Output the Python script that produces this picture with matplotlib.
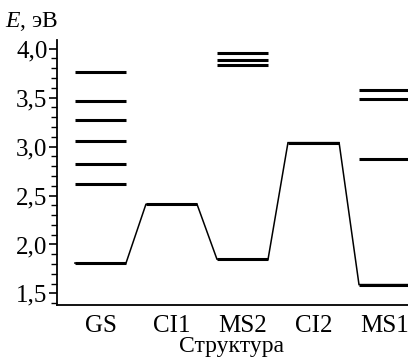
import matplotlib
matplotlib.use('Agg')
import matplotlib.pyplot as plt
from matplotlib.ticker import FixedLocator, MultipleLocator, FixedFormatter

plt.rcParams['font.family'] = ['Liberation Serif', 'DejaVu Serif']
plt.rcParams['mathtext.fontset'] = 'custom'
plt.rcParams['mathtext.rm'] = 'Liberation Serif'
plt.rcParams['mathtext.it'] = 'Liberation Serif:italic'

##########################data
structures = ['GS', 'CI1', 'MS2', 'CI2', 'MS1']
ground = [1.81, 2.41, 1.85, 3.04, 1.59]          # lowest level of each structure (path)
upper = {                                         # excited levels
    'GS': [3.76, 3.47, 3.27, 3.06, 2.82, 2.62],
    'MS2': [3.96, 3.88, 3.83],
    'MS1': [3.58, 3.49, 2.87],
}
yticks = [1.5, 2.0, 2.5, 3.0, 3.5, 4.0]
ytick_labels = ['1,5', '2,0', '2,5', '3,0', '3,5', '4,0']

##########################plotting
fig = plt.figure(figsize=(4.08, 3.59), dpi=100)
ax = fig.add_axes([0.140, 0.150, 0.860, 0.739])

hw = 0.36
xs = list(range(1, len(structures) + 1))

# connecting path
px, py = [], []
for x, e in zip(xs, ground):
    px += [x - hw, x + hw]
    py += [e, e]
ax.plot(px, py, color='black', lw=1.1, solid_joinstyle='miter')

# level bars
for x, name, e in zip(xs, structures, ground):
    ax.hlines(e, x - hw, x + hw, color='black', lw=2.2)
    for lv in upper.get(name, []):
        ax.hlines(lv, x - hw, x + hw, color='black', lw=2.2)

ax.set_xlim(0.39, 5.33)
ax.set_ylim(1.38, 4.09)

ax.set_xticks(xs)
ax.set_xticklabels(structures, fontsize=18)
ax.tick_params(axis='x', length=0, pad=7)

ax.yaxis.set_major_locator(FixedLocator(yticks))
ax.yaxis.set_major_formatter(FixedFormatter(ytick_labels))
ax.yaxis.set_minor_locator(MultipleLocator(0.1))
ax.tick_params(axis='y', which='major', length=6, width=1.2, labelsize=18, pad=1)
ax.tick_params(axis='y', which='minor', length=4, width=1.0)

ax.spines['top'].set_visible(False)
ax.spines['right'].set_visible(False)
ax.spines['left'].set_linewidth(1.3)
ax.spines['bottom'].set_linewidth(1.3)

fig.text(0.568, 0.006, 'Структура', fontsize=17, ha='center', va='bottom')
fig.text(0.012, 0.925, '$E$, эВ', fontsize=17, ha='left', va='baseline')

fig.savefig('out.png', dpi=100)
